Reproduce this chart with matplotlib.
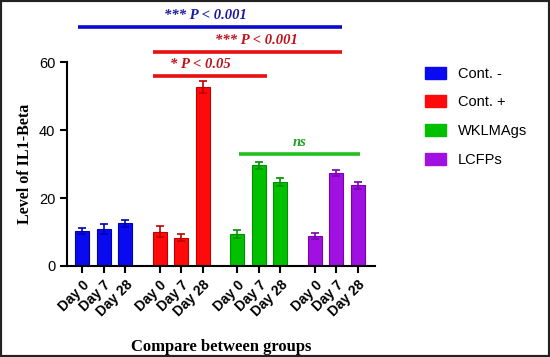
import matplotlib
matplotlib.use("Agg")
import matplotlib.pyplot as plt
from matplotlib.patches import Patch, Rectangle
import numpy as np

groups = ["Cont. -", "Cont. +", "WKLMAgs", "LCFPs"]
days = ["Day 0", "Day 7", "Day 28"]
means = [
    [10.3, 10.8, 12.5],
    [10.1, 8.3, 52.7],
    [9.4, 29.6, 24.8],
    [8.8, 27.3, 23.7],
]
errs = [
    [1.0, 1.5, 1.0],
    [1.7, 1.0, 1.8],
    [1.2, 1.1, 1.2],
    [0.8, 0.9, 1.0],
]
colors = ["#0a0af0", "#ff0a0a", "#00c000", "#a010e0"]
edges = ["#0000b0", "#c00000", "#009000", "#7a00b0"]

fig = plt.figure(figsize=(5.5, 3.57), dpi=100)
ax = fig.add_axes([0.122, 0.255, 0.56, 0.571])

gap = 3.6
pos = []
labels = []
for g in range(len(groups)):
    x = g * gap + np.arange(3)
    ax.bar(x, means[g], width=0.66, color=colors[g], edgecolor=edges[g],
           linewidth=0.8, yerr=errs[g], capsize=3,
           error_kw=dict(ecolor=edges[g], elinewidth=1.2, capthick=1.2),
           label=groups[g], zorder=2)
    pos.extend(x)
    labels.extend(days)

ax.set_xlim(-0.7, 13.6)
ax.set_ylim(0, 60)
ax.set_yticks([0, 20, 40, 60])
ax.set_xticks(pos)
ax.set_xticklabels(labels, rotation=45, ha="right", rotation_mode="anchor",
                   fontsize=10, fontweight="bold", family="Liberation Sans")
for t in ax.get_yticklabels():
    t.set_family("Liberation Sans")
    t.set_fontsize(10.5)
ax.spines["top"].set_visible(False)
ax.spines["right"].set_visible(False)
ax.spines["left"].set_linewidth(1.5)
ax.spines["bottom"].set_linewidth(1.5)
ax.tick_params(axis="both", direction="out", length=5, width=1.5)

ax.set_ylabel("Level of IL1-Beta", family="Liberation Serif", fontweight="bold",
              fontsize=11.5, labelpad=4)
ax.set_xlabel("Compare between groups", family="Liberation Serif",
              fontweight="bold", fontsize=12, labelpad=14)

# significance bars
sig = [
    (-0.19, 12.05, 70.3, "*** P < 0.001", "#0a0acc", "#1a1aa0", 5.7),
    (3.3, 12.05, 62.9, "*** P < 0.001", "#e81010", "#c01018", 8.1),
    (3.3, 8.6, 55.9, "* P < 0.05", "#e81010", "#c01018", 5.5),
    (7.3, 12.9, 32.9, "ns", "#20c020", "#20a020", 10.1),
]
for x0, x1, y, txt, lc, tc, tx in sig:
    ax.plot([x0, x1], [y, y], color=lc, linewidth=2.6, clip_on=False,
            solid_capstyle="butt")
    ax.text(tx, y + 1.6, txt, color=tc, ha="center", va="bottom",
            family="Liberation Serif", fontweight="bold", style="italic",
            fontsize=10.5, clip_on=False)

handles = [Patch(facecolor=c, edgecolor=c) for c in colors]
fig.legend(handles, groups, loc="upper left", bbox_to_anchor=(0.748, 0.85),
           frameon=False, handlelength=1.5, handleheight=0.9,
           labelspacing=1.0, handletextpad=0.8,
           prop={"family": "Liberation Sans", "size": 10.5})

fig.patches.append(Rectangle((0, 0), 1, 1, transform=fig.transFigure,
                             fill=False, edgecolor="#222222", linewidth=3))

fig.savefig("out.png", dpi=100)
